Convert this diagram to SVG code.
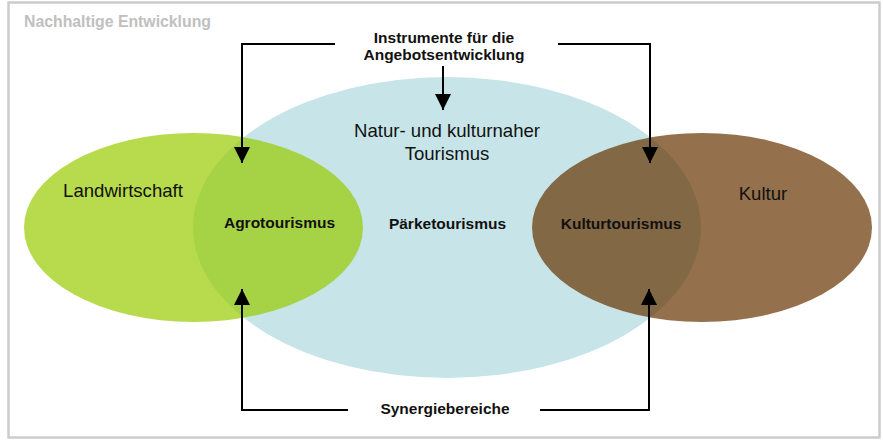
<svg xmlns="http://www.w3.org/2000/svg" width="883" height="442" viewBox="0 0 883 442">
<defs>
<style>
.frame{fill:#ffffff;stroke:#cccccc;stroke-width:2.5}
.title{font-family:"Liberation Sans",Arial,sans-serif;font-weight:bold;font-size:15.8px;fill:#c0c0c0}
.lbl{font-family:"Liberation Sans",Arial,sans-serif;font-size:18.6px;fill:#111111}
.blbl{font-family:"Liberation Sans",Arial,sans-serif;font-weight:bold;font-size:15.5px;fill:#111111}
.conn{fill:none;stroke:#000000;stroke-width:2}
</style>
<marker id="ah" markerUnits="userSpaceOnUse" viewBox="0 0 16 16" refX="16" refY="8" markerWidth="16" markerHeight="16" orient="auto">
<path d="M0,0 L16,8 L0,16 Z" fill="#000000"/>
</marker>
</defs>
<rect class="frame" x="8.5" y="2.5" width="871" height="435"/>
<text class="title" x="24" y="27">Nachhaltige Entwicklung</text>
<g id="tourismus">
<ellipse cx="447" cy="227.5" rx="254" ry="150.5" fill="#c7e5e8"/>
<text class="lbl" x="447" y="137" text-anchor="middle">Natur- und kulturnaher</text>
<text class="lbl" x="447" y="160" text-anchor="middle">Tourismus</text>
</g>
<g id="landwirtschaft">
<ellipse cx="193.5" cy="227.5" rx="169.5" ry="94.5" fill="#99cc00" fill-opacity="0.7"/>
<text class="lbl" x="123" y="197" text-anchor="middle">Landwirtschaft</text>
</g>
<g id="kultur">
<ellipse cx="702" cy="227.5" rx="170" ry="94.5" fill="#663300" fill-opacity="0.7"/>
<text class="lbl" x="763" y="200" text-anchor="middle">Kultur</text>
</g>
<g id="agrotourismus">
<text class="blbl" x="279.5" y="228" text-anchor="middle">Agrotourismus</text>
</g>
<g id="paerketourismus">
<text class="blbl" x="447.5" y="229" text-anchor="middle">Pärketourismus</text>
</g>
<g id="kulturtourismus">
<text class="blbl" x="621" y="229" text-anchor="middle">Kulturtourismus</text>
</g>
<g id="instrumente">
<text class="blbl" x="444" y="43" text-anchor="middle">Instrumente für die</text>
<text class="blbl" x="444" y="60" text-anchor="middle">Angebotsentwicklung</text>
</g>
<g id="synergie">
<text class="blbl" x="445" y="414" text-anchor="middle">Synergiebereiche</text>
</g>
<g id="connectors">
<path class="conn" d="M335,44 H242 V163" marker-end="url(#ah)"/>
<path class="conn" d="M558,44 H650 V163" marker-end="url(#ah)"/>
<path class="conn" d="M443,66 V110" marker-end="url(#ah)"/>
<path class="conn" d="M348,410 H242 V289" marker-end="url(#ah)"/>
<path class="conn" d="M540,410 H649 V289" marker-end="url(#ah)"/>
</g>
</svg>
